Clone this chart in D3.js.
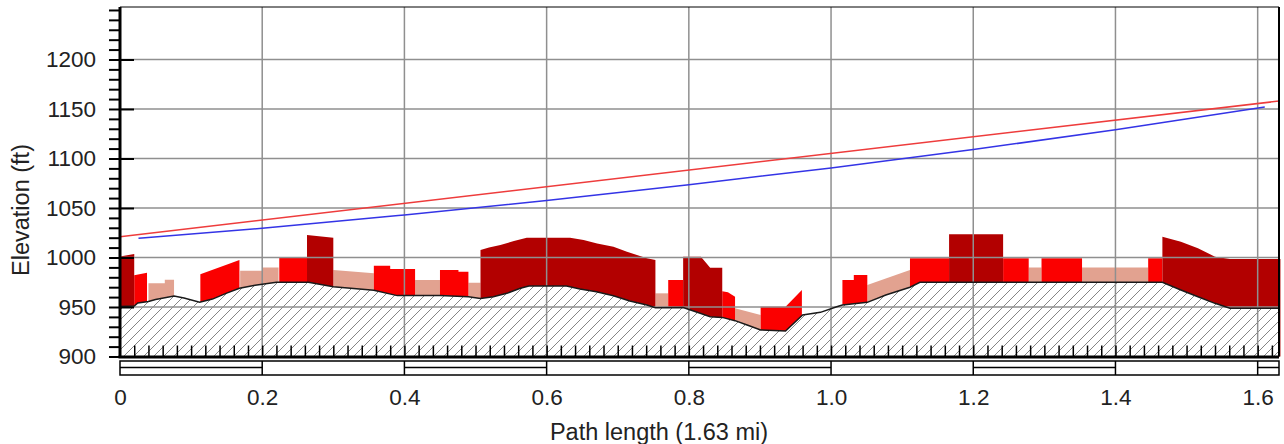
<!DOCTYPE html>
<html>
<head>
<meta charset="utf-8">
<script src="https://cdn.jsdelivr.net/npm/d3@7"></script>
<style>
  body { margin: 0; background: #fff; }
  svg { display: block; font-family: "Liberation Sans", Arial, sans-serif; }
</style>
</head>
<body>
<div class="canvas"></div>
<script>
// terrain profile along the path (mi, ft)
const terrainDist = [0, 0.02, 0.025, 0.04, 0.05, 0.076, 0.09, 0.112, 0.13, 0.15, 0.168, 0.19,
  0.22, 0.265, 0.30, 0.357, 0.39, 0.45, 0.49, 0.507, 0.525, 0.544, 0.563, 0.575, 0.628, 0.647,
  0.67, 0.694, 0.717, 0.741, 0.753, 0.792, 0.816, 0.83, 0.847, 0.865, 0.882, 0.901, 0.936, 0.96,
  0.985, 1.008, 1.016, 1.051, 1.077, 1.111, 1.125, 1.466, 1.492, 1.516, 1.54, 1.561, 1.63];
const terrainElev = [950.5, 951, 954, 955.5, 957.5, 961, 959, 954.7, 958, 964, 969, 972,
  975, 975, 970.5, 967, 961.5, 961.5, 960.4, 958.5, 960.4, 963.8, 968.9, 971.2, 971.2, 968.2,
  965.5, 961.4, 956, 952, 949.3, 949.5, 943.6, 940.2, 939.5, 936.2, 931.8, 926.8, 925.8, 942,
  944.6, 950.3, 952, 954.7, 962.1, 970, 975, 975, 967.2, 960.4, 953.7, 948.7, 948.7];

// obstacles on top of the terrain, each is its top outline [mi, ft]
const darkObstacles = [
  [[0, 1001], [0.02, 1003.5]],
  [[0.263, 1022.7], [0.3, 1020]],
  [[0.507, 1007.6], [0.519, 1010], [0.535, 1012.5], [0.554, 1016.6], [0.572, 1020], [0.633, 1020],
   [0.652, 1017.6], [0.671, 1014.2], [0.694, 1010.9], [0.713, 1005.8], [0.727, 1002.5],
   [0.741, 999.2], [0.753, 997.5]],
  [[0.792, 1000.8], [0.817, 1000.8], [0.83, 989.7], [0.847, 989.7]],
  [[1.166, 1023.4], [1.242, 1023.4]],
  [[1.466, 1021], [1.492, 1016], [1.516, 1009.3], [1.54, 1000.8], [1.561, 998.5], [1.632, 998.5]]
];
const redObstacles = [
  [[0.02, 982], [0.038, 984.5]],
  [[0.113, 983], [0.168, 997.5]],
  [[0.224, 1000], [0.263, 1000]],
  [[0.357, 991.7], [0.38, 991.7], [0.38, 988.4], [0.415, 988.4]],
  [[0.45, 987.4], [0.476, 987.4], [0.476, 985.5], [0.49, 985.5]],
  [[0.771, 977.3], [0.792, 977.3]],
  [[0.847, 966], [0.855, 965], [0.865, 960.4]],
  [[0.901, 950.3], [0.936, 950.3], [0.959, 967.2]],
  [[1.016, 977.3], [1.032, 977.3], [1.032, 982.3], [1.051, 982.3]],
  [[1.111, 999.2], [1.166, 999.2]],
  [[1.242, 999.2], [1.278, 999.2]],
  [[1.296, 999.2], [1.353, 999.2]],
  [[1.446, 999.2], [1.466, 999.2]]
];
const lightObstacles = [
  [[0.04, 974], [0.063, 974], [0.063, 977.5], [0.076, 977.5]],
  [[0.169, 986.7], [0.2, 986.7], [0.2, 990], [0.223, 990]],
  [[0.3, 987.4], [0.357, 984]],
  [[0.415, 977.3], [0.45, 977.3]],
  [[0.49, 974.5], [0.507, 974.5]],
  [[0.753, 963.8], [0.771, 963.8]],
  [[0.865, 948.7], [0.901, 941.9]],
  [[1.051, 972.2], [1.111, 987.4]],
  [[1.278, 990], [1.296, 990]],
  [[1.353, 990], [1.446, 990]]
];

// straight line of sight and the curved ray
const sightDist = [0, 1.63];
const sightElev = [1021, 1158];
const rayDist = [0.026, 0.2, 0.4, 0.6, 0.8, 1.0, 1.2, 1.4, 1.61];
const rayElev = [1019.5, 1029.5, 1043, 1057.5, 1073.5, 1090.5, 1109, 1129, 1152];

// tick labels
const xTicks = [0, 0.2, 0.4, 0.6, 0.8, 1.0, 1.2, 1.4, 1.6];
const yTicks = [900, 950, 1000, 1050, 1100, 1150, 1200];
const pathLength = 1.63;

const width = 1284;
const height = 444;

const svg = d3.select('.canvas')
  .append('svg')
  .attr('width', width)
  .attr('height', height);

svg.append('rect').attr('width', width).attr('height', height).attr('fill', '#fff');

// scales
const x = d3.scaleLinear().domain([0, pathLength]).range([120, 1279]);
const y = d3.scaleLinear().domain([900, 1253]).range([356.5, 7]);
const plotBottom = y(900);
const plotTop = y(1253);

// hatch pattern for the ground
const pattern = svg.append('defs').append('pattern')
  .attr('id', 'hatch')
  .attr('patternUnits', 'userSpaceOnUse')
  .attr('width', 10)
  .attr('height', 10);
pattern.append('rect').attr('width', 10).attr('height', 10).attr('fill', '#fff');
pattern.append('path')
  .attr('d', 'M-1,1 l2,-2 M0,10 l10,-10 M9,11 l2,-2')
  .attr('stroke', '#858585')
  .attr('stroke-width', 1);

// obstacles (bottom goes down to the axis, ground covers it)
const obstacleArea = d3.area()
  .x(d => x(d[0]))
  .y0(plotBottom)
  .y1(d => y(d[1]));

const drawObstacles = (list, colour) => {
  svg.append('g').selectAll('path')
    .data(list)
    .enter()
    .append('path')
    .attr('d', obstacleArea)
    .attr('fill', colour);
};
drawObstacles(lightObstacles, '#e2a290');
drawObstacles(redObstacles, '#fb0000');
drawObstacles(darkObstacles, '#b20000');

// ground
const terrain = terrainDist.map((d, i) => [d, terrainElev[i]]);
svg.append('path')
  .datum(terrain)
  .attr('d', d3.area().x(d => x(d[0])).y0(plotBottom).y1(d => y(d[1])))
  .attr('fill', 'url(#hatch)');

// grid
svg.append('g').selectAll('line')
  .data(yTicks.filter(v => v > 900))
  .enter()
  .append('line')
  .attr('x1', x(0)).attr('x2', x(pathLength))
  .attr('y1', d => y(d)).attr('y2', d => y(d))
  .attr('stroke', '#8f8f8f')
  .attr('stroke-width', 1.5);
svg.append('g').selectAll('line')
  .data(xTicks.filter(v => v > 0))
  .enter()
  .append('line')
  .attr('x1', d => x(d)).attr('x2', d => x(d))
  .attr('y1', plotTop).attr('y2', plotBottom)
  .attr('stroke', '#8f8f8f')
  .attr('stroke-width', 1.5);

// ground outline
svg.append('path')
  .datum(terrain)
  .attr('d', d3.line().x(d => x(d[0])).y(d => y(d[1])))
  .attr('fill', 'none')
  .attr('stroke', '#1a1a1a')
  .attr('stroke-width', 1.5);

// line of sight and ray
svg.append('path')
  .datum(sightDist.map((d, i) => [d, sightElev[i]]))
  .attr('d', d3.line().x(d => x(d[0])).y(d => y(d[1])))
  .attr('fill', 'none')
  .attr('stroke', '#ee3c3c')
  .attr('stroke-width', 1.5);
svg.append('path')
  .datum(rayDist.map((d, i) => [d, rayElev[i]]))
  .attr('d', d3.line().curve(d3.curveMonotoneX).x(d => x(d[0])).y(d => y(d[1])))
  .attr('fill', 'none')
  .attr('stroke', '#3434e6')
  .attr('stroke-width', 1.5);

// x axis: small ticks pointing into the plot
const minorX = d3.range(1, Math.floor(pathLength / 0.02) + 1).map(i => i * 0.02);
const xMinorGroup = svg.append('g').attr('transform', `translate(0, ${plotBottom})`)
  .call(d3.axisBottom(x).tickValues(minorX).tickSize(-11).tickFormat(''));
xMinorGroup.selectAll('line').attr('stroke', '#000').attr('stroke-width', 1.5);

const xAxisGroup = svg.append('g').attr('transform', `translate(0, ${plotBottom})`)
  .call(d3.axisBottom(x).tickValues(xTicks).tickSize(0).tickPadding(33)
    .tickFormat(d => d === 0 ? '0' : d3.format('.1f')(d)));
xAxisGroup.selectAll('text')
  .attr('font-size', 22.5)
  .attr('font-family', '"Liberation Sans", Arial, sans-serif')
  .attr('fill', '#222');

// y axis
const yMinorGroup = svg.append('g').attr('transform', `translate(${x(0)}, 0)`)
  .call(d3.axisLeft(y).tickValues(d3.range(900, 1251, 10)).tickSize(11).tickFormat(''));
yMinorGroup.selectAll('line').attr('stroke', '#000').attr('stroke-width', 2);

const yAxisGroup = svg.append('g').attr('transform', `translate(${x(0)}, 0)`)
  .call(d3.axisLeft(y).tickValues(yTicks).tickSizeInner(-14).tickSizeOuter(0).tickPadding(24)
    .tickFormat(d3.format('d')));
yAxisGroup.selectAll('line').attr('stroke', '#000').attr('stroke-width', 2);
yAxisGroup.selectAll('text')
  .attr('font-size', 22.5)
  .attr('font-family', '"Liberation Sans", Arial, sans-serif')
  .attr('fill', '#222');

svg.selectAll('.domain').remove();

// frame
svg.append('line').attr('x1', x(0)).attr('x2', x(pathLength)).attr('y1', plotTop).attr('y2', plotTop)
  .attr('stroke', '#000').attr('stroke-width', 1);
svg.append('line').attr('x1', x(pathLength)).attr('x2', x(pathLength)).attr('y1', plotTop).attr('y2', plotBottom)
  .attr('stroke', '#000').attr('stroke-width', 2);
svg.append('line').attr('x1', x(0)).attr('x2', x(0)).attr('y1', plotTop).attr('y2', plotBottom + 1.5)
  .attr('stroke', '#000').attr('stroke-width', 3);
svg.append('line').attr('x1', x(0) - 1.5).attr('x2', x(pathLength)).attr('y1', plotBottom + 0.5).attr('y2', plotBottom + 0.5)
  .attr('stroke', '#000').attr('stroke-width', 3);

// scale bar under the axis
const barBreaks = [...xTicks, pathLength];
const barTop = 361;
const barMid = 367.5;
const barBottom = 375;
const bar = svg.append('g').attr('stroke', '#000').attr('stroke-width', 1.5).attr('fill', 'none');
bar.append('rect')
  .attr('x', x(0)).attr('y', barTop)
  .attr('width', x(pathLength) - x(0)).attr('height', barBottom - barTop);
bar.selectAll('.div')
  .data(barBreaks.slice(1, -1))
  .enter()
  .append('line')
  .attr('x1', d => x(d)).attr('x2', d => x(d))
  .attr('y1', barTop).attr('y2', barBottom);
bar.selectAll('.mid')
  .data(barBreaks.slice(0, -1).map((d, i) => [d, barBreaks[i + 1]]).filter((d, i) => i % 2 === 0))
  .enter()
  .append('line')
  .attr('x1', d => x(d[0])).attr('x2', d => x(d[1]))
  .attr('y1', barMid).attr('y2', barMid);

// axis titles
svg.append('text')
  .attr('x', 659)
  .attr('y', 440)
  .attr('text-anchor', 'middle')
  .attr('font-size', 23.5)
  .attr('fill', '#222')
  .text('Path length (1.63 mi)');

svg.append('text')
  .attr('transform', 'translate(29, 210) rotate(-90)')
  .attr('text-anchor', 'middle')
  .attr('font-size', 23.5)
  .attr('fill', '#222')
  .text('Elevation (ft)');
</script>
</body>
</html>
